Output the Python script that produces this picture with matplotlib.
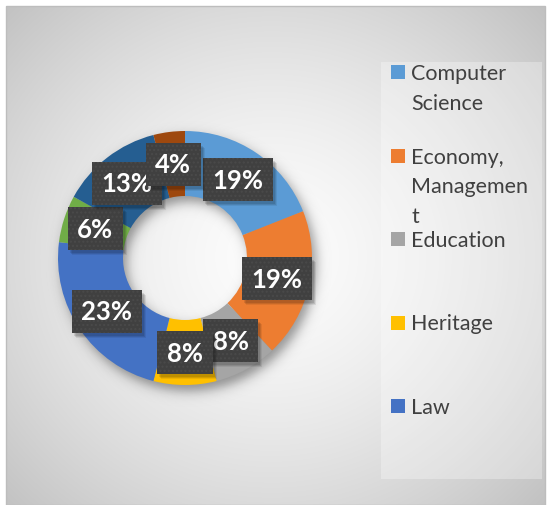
import numpy as np
import matplotlib.pyplot as plt
from matplotlib.transforms import IdentityTransform
from matplotlib.patches import Rectangle

# ---- data ----
categories = ["Computer Science", "Economy, Management", "Education", "Heritage",
              "Law", "Category 6", "Category 7", "Category 8"]
shares = [19, 19, 8, 8, 23, 6, 13, 4]
legend_labels = ["Computer\nScience", "Economy,\nManagemen\nt", "Education", "Heritage", "Law"]
colors = ["#5B9BD5", "#ED7D31", "#A5A5A5", "#FFC000", "#4472C4",
          "#70AD47", "#255E91", "#9E480E"]

W, H = 548, 506
fig = plt.figure(figsize=(W / 100, H / 100), dpi=100)
fig.patch.set_facecolor("white")

# ---- background axes in pixel units ----
bg = fig.add_axes([0, 0, 1, 1])
bg.axis("off")

x0, x1, y0, y1 = 6, 545, 7, 506
yy, xx = np.mgrid[y0:y1, x0:x1] + 0.5
cx, cy = 272, 258
r = np.hypot(xx - cx, (yy - cy) * 1.05)
t = np.clip(r / 375, 0, 1)
val = 0.99 + (0.76 - 0.99) * t ** 1.5
img = np.dstack([val, val, val])
bg.imshow(img, extent=(x0, x1, y1, y0), interpolation="bilinear", aspect="auto", zorder=0)
bg.add_patch(Rectangle((x0, y0), x1 - x0, y1 - y0, fill=False, ec="#BDBDBD", lw=1, zorder=1))

# soft shadow of the donut (offset down-right)
pcx, pcy, R_out, R_in = 185, 259, 127, 62
sx0, sx1, sy0, sy1 = pcx - 150, pcx + 160, pcy - 150, pcy + 160
syy, sxx = np.mgrid[sy0:sy1, sx0:sx1] + 0.5
sr = np.hypot(sxx - (pcx + 4), syy - (pcy + 6))
d = np.maximum(sr - R_out, R_in - sr)
alpha = 0.40 / (1 + np.exp(d / 3.5))
shadow = np.zeros(sr.shape + (4,))
shadow[..., 3] = alpha
bg.imshow(shadow, extent=(sx0, sx1, sy1, sy0), interpolation="bilinear", aspect="auto", zorder=2)

# legend box
bg.add_patch(Rectangle((381, 63), 161, 417, fc="white", alpha=0.3, ec="none", zorder=3))
bg.set_xlim(0, W)
bg.set_ylim(H, 0)

# ---- donut ----
ax = fig.add_axes([(pcx - R_out) / W, (H - pcy - R_out) / H, 2 * R_out / W, 2 * R_out / H])
ring = 1 - R_in / R_out
wedges, _ = ax.pie(shares, colors=colors, startangle=90, counterclock=False, radius=1,
                   wedgeprops=dict(width=ring, linewidth=0))
ax.set_xlim(-1, 1)
ax.set_ylim(-1, 1)
ax.axis("off")

rmid = 1 - ring / 2
labels = []
for i, (w, v) in enumerate(zip(wedges, shares)):
    ang = np.deg2rad((w.theta1 + w.theta2) / 2)
    txt = ax.text(rmid * np.cos(ang), rmid * np.sin(ang), f"{v}%", ha="center", va="center",
                  fontsize=18.5, fontweight="bold", family="Lato", color="white", zorder=11 + 2 * i,
                  bbox=dict(boxstyle="square,pad=0.37", fc="#404040", ec="#4A4A4A", lw=0, hatch="...."))
    labels.append(txt)

# ---- legend ----
for i, lab in enumerate(legend_labels):
    yc = 73 + i * 83.5
    bg.add_patch(Rectangle((391, yc - 7), 14, 14, fc=colors[i], ec="none", zorder=5))
    bg.text(411, yc - 9, lab, ha="left", va="top", fontsize=15.5, family="Lato",
            color="#404040", linespacing=1.62, zorder=5)

# drop shadows of the label boxes (drawn in display pixels, just below each label)
fig.canvas.draw()
renderer = fig.canvas.get_renderer()
for i, txt in enumerate(labels):
    bb = txt.get_bbox_patch().get_window_extent(renderer)
    for k, (dx, dy, a) in enumerate([(2, -3, 0.10), (3, -4, 0.10), (4, -5, 0.07)]):
        ax.add_patch(Rectangle((bb.x0 + dx, bb.y0 + dy), bb.width, bb.height, fc="black",
                               alpha=a, lw=0, transform=IdentityTransform(), clip_on=False,
                               zorder=10.5 + 2 * i))

fig.savefig("out.png", dpi=100)
